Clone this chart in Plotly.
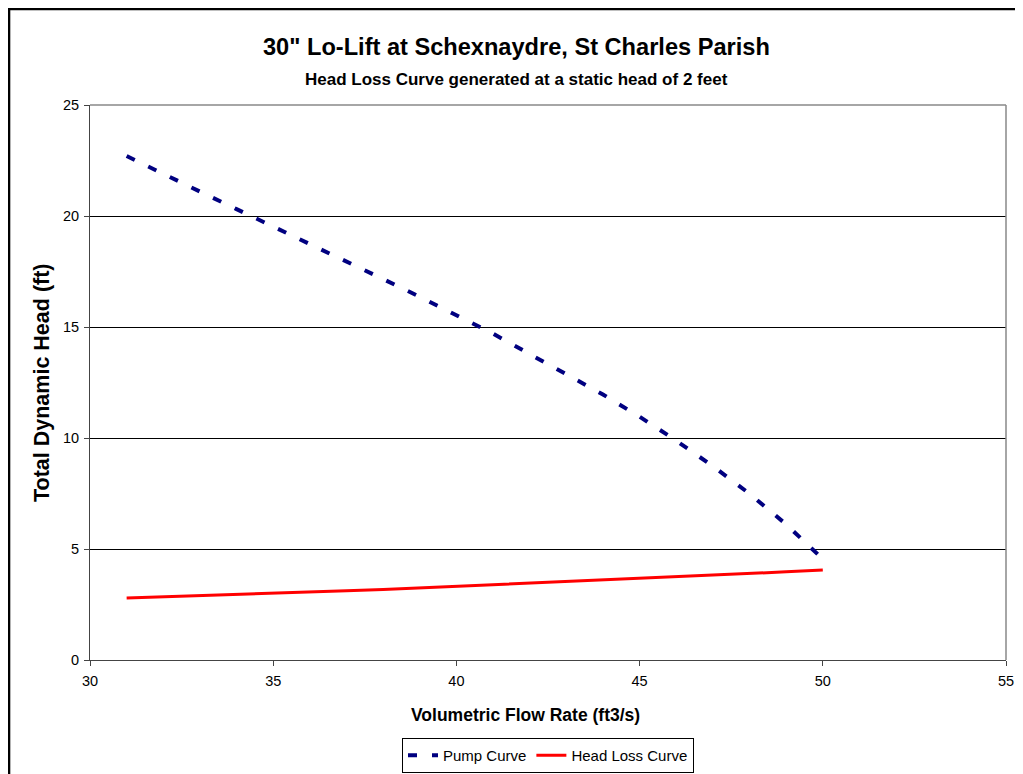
import plotly.graph_objects as go

flow = [31, 32, 33, 34, 35, 36, 37, 38, 39, 40, 41, 42, 43, 44, 45, 46, 47, 48, 49, 50]
pump_head = [22.7, 21.88, 21.1, 20.31, 19.53, 18.75, 17.96, 17.16, 16.36, 15.55,
             14.70, 13.78, 12.89, 11.96, 10.96, 9.88, 8.73, 7.49, 6.11, 4.55]
loss_head = [2.79, 2.84, 2.89, 2.95, 3.00, 3.06, 3.12, 3.18, 3.25, 3.31,
             3.38, 3.45, 3.52, 3.59, 3.66, 3.74, 3.81, 3.89, 3.97, 4.05]

x_ticks = [30, 35, 40, 45, 50, 55]
y_ticks = [0, 5, 10, 15, 20, 25]

title = '30" Lo-Lift at Schexnaydre, St Charles Parish'
subtitle = "Head Loss Curve generated at a static head of 2 feet"
x_title = "Volumetric Flow Rate (ft3/s)"
y_title = "Total Dynamic Head (ft)"

fig = go.Figure()
fig.add_trace(go.Scatter(x=flow, y=pump_head, mode="lines", name="Pump Curve",
                         line=dict(color="#000080", width=4, dash="9px,15px")))
fig.add_trace(go.Scatter(x=flow, y=loss_head, mode="lines", name="Head Loss Curve",
                         line=dict(color="#FF0000", width=3)))

# page has an 8px body margin; figure is placed at (8, 8)
OFF = 8
W, H = 1007, 774
L, R, T, B = 82, 9, 97, 122
pw = W - L - R
ph = H - T - B


def px_x(p):
    return (p - OFF - L) / pw


def px_y(p):
    return (H - B - (p - OFF)) / ph


fig.update_layout(
    width=W, height=H,
    margin=dict(l=L, r=R, t=T, b=B, pad=0),
    paper_bgcolor="white", plot_bgcolor="white",
    font=dict(family="Arial, Liberation Sans, sans-serif", size=14.5, color="black"),
    showlegend=True,
    legend=dict(orientation="h", x=px_x(548), xanchor="center", y=px_y(738), yanchor="top",
                bordercolor="#000000", borderwidth=1, font=dict(size=15),
                tracegroupgap=0),
    xaxis=dict(range=[30, 55], tickvals=x_ticks, ticktext=[str(v) for v in x_ticks],
               showgrid=False, zeroline=False, showline=True, linecolor="#444444",
               linewidth=1, ticks="outside", ticklen=5, tickcolor="#444444",
               tickfont=dict(size=14.5), ticklabelstandoff=3, automargin=False),
    yaxis=dict(range=[0, 25], tickvals=y_ticks, ticktext=[str(v) for v in y_ticks],
               showgrid=True, gridcolor="#000000", gridwidth=1, zeroline=False,
               showline=True, linecolor="#444444", linewidth=1, ticks="outside",
               ticklen=5, tickcolor="#444444", tickfont=dict(size=14.5),
               ticklabelstandoff=2, automargin=False),
)

# plot-area border (top/right in gray)
fig.add_shape(type="line", xref="paper", yref="paper", x0=0, x1=1, y0=1, y1=1,
              line=dict(color="#888888", width=1.5))
fig.add_shape(type="line", xref="paper", yref="paper", x0=1, x1=1, y0=0, y1=1,
              line=dict(color="#888888", width=1.5))

# outer chart border (runs off the image on right/bottom)
fig.add_shape(type="rect", xref="paper", yref="paper",
              x0=px_x(8.8), x1=px_x(1060), y0=px_y(830), y1=px_y(8.8),
              line=dict(color="black", width=3), layer="above")

fig.add_annotation(text="<b>" + title + "</b>", xref="paper", yref="paper",
                   x=px_x(516.5), y=px_y(47), xanchor="center", yanchor="middle",
                   showarrow=False, font=dict(size=23.6))
fig.add_annotation(text="<b>" + subtitle + "</b>", xref="paper", yref="paper",
                   x=px_x(516), y=px_y(79), xanchor="center", yanchor="middle",
                   showarrow=False, font=dict(size=17))
fig.add_annotation(text="<b>" + x_title + "</b>", xref="paper", yref="paper",
                   x=px_x(525.5), y=px_y(715), xanchor="center", yanchor="middle",
                   showarrow=False, font=dict(size=17.5))
fig.add_annotation(text="<b>" + y_title + "</b>", xref="paper", yref="paper",
                   x=px_x(42), y=px_y(383), xanchor="center", yanchor="middle",
                   showarrow=False, textangle=-90, font=dict(size=21.5))

fig.write_html("out.html")
